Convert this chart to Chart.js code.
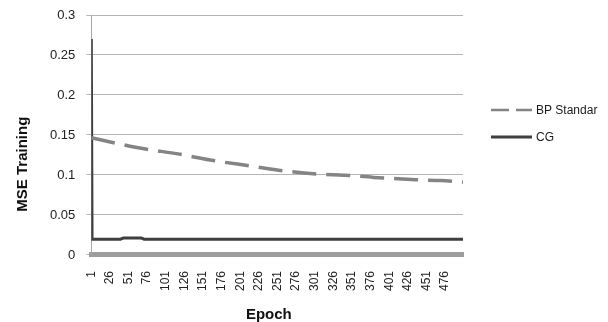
<!DOCTYPE html>
<html>
<head>
<meta charset="utf-8">
<script src="https://cdn.jsdelivr.net/npm/chart.js@4/dist/chart.umd.min.js"></script>
<style>
  html, body { margin: 0; padding: 0; background: #fff; }
  #wrap { width: 608px; height: 322px; }
</style>
</head>
<body>
<div id="wrap"><canvas id="mseChart" width="608" height="322"></canvas></div>
<script>
// tick labels
const epochTicks = [1, 26, 51, 76, 101, 126, 151, 176, 201, 226, 251, 276, 301, 326, 351, 376, 401, 426, 451, 476];
const mseTicks = [0, 0.05, 0.1, 0.15, 0.2, 0.25, 0.3];

// BP Standar (dashed)
const bpEpochs = [1, 60, 123, 165, 214, 261, 308, 340, 380, 405, 440, 470, 500];
const bpMse = [0.1466, 0.1347, 0.1254, 0.118, 0.1114, 0.105, 0.101, 0.0998, 0.097, 0.0958, 0.094, 0.093, 0.091];

// CG (solid)
const cgEpochs = [1, 2, 40, 44, 68, 72, 500];
const cgMse = [0.27, 0.0198, 0.0198, 0.0211, 0.0211, 0.0198, 0.0198];

const FONT = '"Liberation Sans", Arial, sans-serif';

const toPoints = (xs, ys) => xs.map((x, i) => ({ x: x, y: ys[i] }));

// Excel style legend sitting to the right of the plot
const sideLegend = {
    id: 'sideLegend',
    afterDraw(chart) {
        const ctx = chart.ctx;
        const area = chart.chartArea;
        const x0 = area.right + 28;
        let y = area.top + 95;
        ctx.save();
        chart.data.datasets.forEach(ds => {
            ctx.beginPath();
            ctx.setLineDash(ds.legendDash || []);
            ctx.strokeStyle = ds.borderColor;
            ctx.lineWidth = ds.legendWidth || ds.borderWidth;
            ctx.moveTo(x0, y);
            ctx.lineTo(x0 + 41, y);
            ctx.stroke();
            ctx.setLineDash([]);
            ctx.fillStyle = '#1a1a1a';
            ctx.font = '12px ' + FONT;
            ctx.textBaseline = 'middle';
            ctx.fillText(ds.label, x0 + 45, y + 1);
            y += 27;
        });
        ctx.restore();
    }
};

const ctx = document.getElementById('mseChart').getContext('2d');
new Chart(ctx, {
    type: 'line',
    data: {
        datasets: [{
            label: 'BP Standar',
            data: toPoints(bpEpochs, bpMse),
            borderColor: '#848484',
            borderWidth: 3.5,
            borderDash: [24, 10],
            legendDash: [18, 7],
            legendWidth: 2.5,
            cubicInterpolationMode: 'monotone',
            pointRadius: 0
        }, {
            label: 'CG',
            data: toPoints(cgEpochs, cgMse),
            borderColor: '#3f3f3f',
            borderWidth: 3,
            tension: 0,
            pointRadius: 0
        }]
    },
    options: {
        responsive: false,
        animation: false,
        layout: { padding: { left: 14, right: 145, top: 15, bottom: 0 } },
        plugins: {
            legend: { display: false },
            tooltip: { enabled: false }
        },
        scales: {
            x: {
                type: 'linear',
                min: 1,
                max: 500,
                afterBuildTicks: scale => { scale.ticks = epochTicks.map(v => ({ value: v })); },
                ticks: {
                    autoSkip: false,
                    minRotation: 90,
                    maxRotation: 90,
                    padding: 16,
                    color: '#222',
                    font: { family: FONT, size: 12 },
                    callback: v => String(v)
                },
                grid: { display: false, drawTicks: false },
                border: { color: '#9c9c9c', width: 5 },
                title: {
                    display: true,
                    // trailing spaces nudge the centred title a bit left, like the original
                    text: 'Epoch    ',
                    color: '#111',
                    font: { family: FONT, size: 15, weight: 'bold', lineHeight: 1 },
                    padding: { top: 0, bottom: 0 }
                }
            },
            y: {
                min: 0,
                max: 0.3,
                afterBuildTicks: scale => { scale.ticks = mseTicks.map(v => ({ value: v })); },
                // tick padding is meant for the gap to the labels only, not the top margin
                afterFit: scale => { scale.paddingTop = 0; scale.paddingBottom = 0; },
                ticks: {
                    padding: 11,
                    color: '#222',
                    font: { family: FONT, size: 13 },
                    callback: v => String(v)
                },
                grid: { color: '#b5b5b5', lineWidth: 1, tickLength: 5 },
                border: { color: '#a8a8a8', width: 1 },
                title: {
                    display: true,
                    // original title sits below the middle of the axis
                    text: 'MSE Training' + ' '.repeat(14),
                    color: '#111',
                    font: { family: FONT, size: 15, weight: 'bold' },
                    padding: { top: 0, bottom: 7 }
                }
            }
        }
    },
    plugins: [sideLegend]
});
</script>
</body>
</html>
